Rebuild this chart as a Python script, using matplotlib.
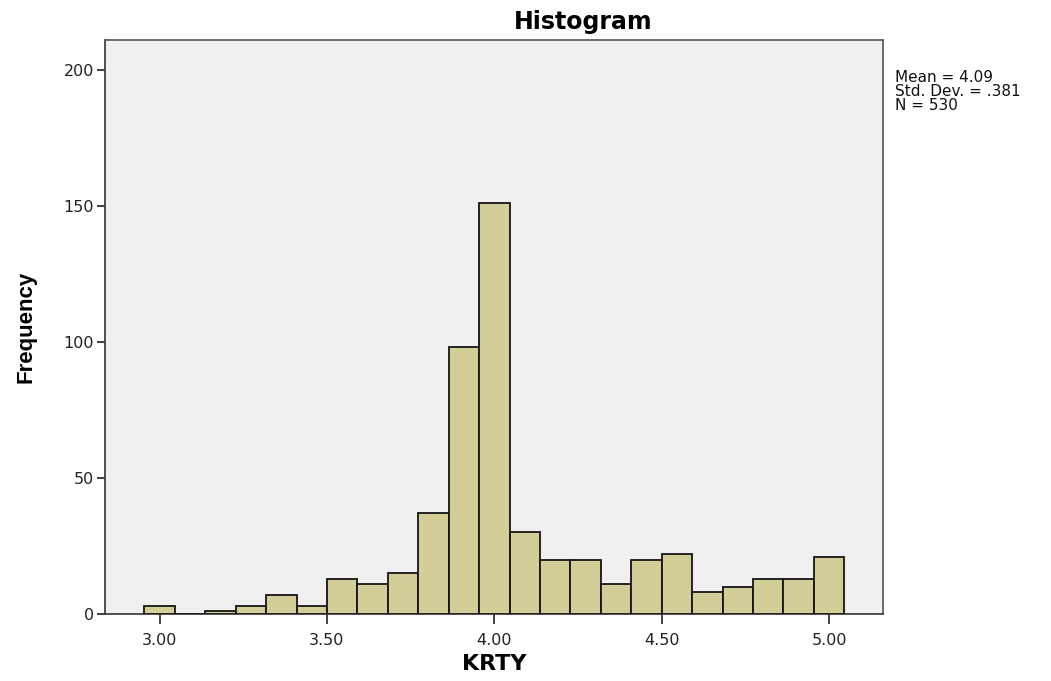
import numpy as np
import matplotlib
matplotlib.use("Agg")
import matplotlib.pyplot as plt

# Bin centers (KRTY values) and frequencies
bin_centers = [3 + k / 11 for k in range(23)]
frequencies = [3, 0, 1, 3, 7, 3, 13, 11, 15, 37, 98, 151, 30, 20, 20, 11, 20, 22, 8, 10, 13, 13, 21]
x_ticks = [3.0, 3.5, 4.0, 4.5, 5.0]
x_tick_labels = ["3.00", "3.50", "4.00", "4.50", "5.00"]
y_ticks = [0, 50, 100, 150, 200]
stats_text = "Mean = 4.09\nStd. Dev. = .381\nN = 530"

plt.rcParams['font.family'] = ['DejaVu Sans']

fig = plt.figure(figsize=(10.51, 6.81), dpi=100)
ax = fig.add_axes([105/1051, 1 - 614/681, (883-105)/1051, (614-40)/681])
ax.set_facecolor('#F0F0F0')

width = 1 / 11
ax.bar(bin_centers, frequencies, width=width, color='#D3CE97', edgecolor='#151515', linewidth=1.3, align='center', zorder=3)

ax.set_xlim(2.837, 5.161)
ax.set_ylim(0, 211)
ax.set_xticks(x_ticks)
ax.set_xticklabels(x_tick_labels)
ax.set_yticks(y_ticks)
ax.tick_params(axis='both', labelsize=11.5, colors='#222222', width=1.2)
ax.tick_params(axis='x', length=7, direction='out', pad=7)
ax.tick_params(axis='y', length=6, direction='out', pad=2)
for s in ax.spines.values():
    s.set_color('#555555')
    s.set_linewidth(1.2)
ax.spines['left'].set_color('#333333')
ax.spines['bottom'].set_color('#333333')

fig.text(583/1051, 1 - 22/681, "Histogram", fontsize=17, fontweight='bold', ha='center', va='center')
ax.set_xlabel("KRTY", fontsize=16, fontweight='bold', labelpad=4)
ax.set_ylabel("Frequency", fontsize=16, fontweight='bold', labelpad=19,
              family=['Liberation Sans', 'DejaVu Sans'])

fig.text(895/1051, 1 - 70/681, stats_text, fontsize=11, va='top', ha='left', linespacing=0.92, color='#111111')

fig.savefig("out.png", dpi=100)
